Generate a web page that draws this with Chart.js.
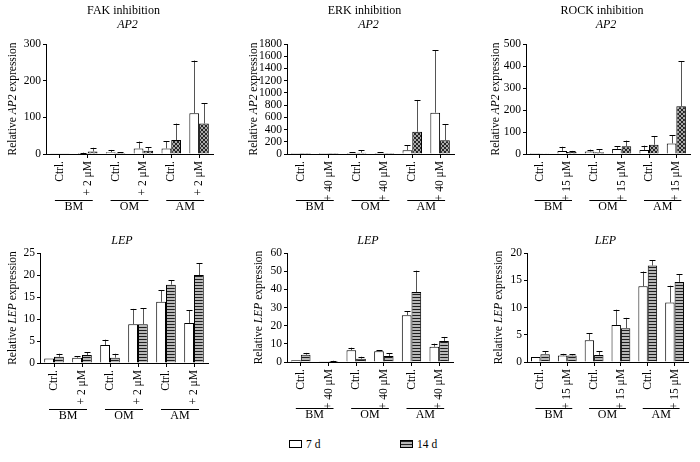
<!DOCTYPE html>
<html>
<head>
<meta charset="utf-8">
<script src="https://cdn.jsdelivr.net/npm/chart.js@4.4.0/dist/chart.umd.min.js"></script>
<style>
  body { margin: 0; background: #fff; width: 700px; height: 462px; overflow: hidden; position: relative; }
  canvas { position: absolute; }
  .leg { position: absolute; top: 438px; font-family: "Liberation Serif", serif; font-size: 11.5px; color: #000; line-height: 12px; }
  .leg span { display: inline-block; width: 11px; height: 6px; border: 1px solid #000; margin-right: 4px; vertical-align: 0px; background: #fff; }
  .leg span.striped { background: repeating-linear-gradient(to bottom, #222 0px, #222 1px, #b8b8b8 1px, #b8b8b8 3px); }
</style>
</head>
<body>
<canvas id="c0"></canvas>
<canvas id="c1"></canvas>
<canvas id="c2"></canvas>
<canvas id="c3"></canvas>
<canvas id="c4"></canvas>
<canvas id="c5"></canvas>
<div class="leg" style="left:289px"><span></span>7 d</div>
<div class="leg" style="left:400px"><span class="striped"></span>14 d</div>
<script>
// categories
const groups = ["BM", "OM", "AM"];
const fakLabels = ["Ctrl.", "+ 2 μM", "Ctrl.", "+ 2 μM", "Ctrl.", "+ 2 μM"];
const erkLabels = ["Ctrl.", "+ 40 μM", "Ctrl.", "+ 40 μM", "Ctrl.", "+ 40 μM"];
const rockLabels = ["Ctrl.", "+ 15 μM", "Ctrl.", "+ 15 μM", "Ctrl.", "+ 15 μM"];

// AP2 (top row)
const fakAp2d7 = [1, 3, 5, 15, 15, 111];
const fakAp2d14 = [2, 7, 3, 9, 38, 83];
const fakAp2sd7 = [0, 1, 6, 19, 20, 144];
const fakAp2sd14 = [0, 10, 2, 10, 45, 56];

const erkAp2d7 = [1, 1, 16, 16, 60, 676];
const erkAp2d14 = [1, 1, 22, 2, 365, 224];
const erkAp2sd7 = [0, 0, 11, 11, 87, 1021];
const erkAp2sd14 = [0, 0, 38, 0, 519, 267];

const rockAp2d7 = [0.5, 14, 11, 23, 18, 48];
const rockAp2d14 = [1, 9, 8, 35, 42, 217];
const rockAp2sd7 = [0, 19, 9, 12, 20, 38];
const rockAp2sd14 = [0, 5, 13, 26, 40, 204];

// LEP (bottom row)
const fakLepd7 = [1.0, 1.2, 4.1, 8.8, 13.9, 9.1];
const fakLepd14 = [1.4, 1.8, 1.2, 8.8, 17.8, 20.0];
const fakLepsd7 = [0, 0.3, 1.2, 3.5, 2.6, 2.9];
const fakLepsd14 = [0.7, 0.6, 0.9, 3.7, 1.0, 2.7];

const erkLepd7 = [0.9, 0.4, 6.4, 5.9, 25.7, 8.4];
const erkLepd14 = [4.0, 0.5, 1.8, 3.3, 38.5, 11.6];
const erkLepsd7 = [0, 0, 1.5, 0.7, 2.2, 1.7];
const erkLepsd14 = [1.0, 0.2, 1.1, 1.5, 11.8, 2.2];

const rockLepd7 = [0.9, 1.2, 4.0, 6.8, 13.9, 10.9];
const rockLepd14 = [1.4, 1.2, 1.3, 6.2, 17.7, 14.7];
const rockLepsd7 = [0, 0.3, 1.3, 2.8, 2.7, 3.1];
const rockLepsd14 = [0.6, 0.2, 0.7, 1.9, 1.0, 1.4];

// y axis ranges [max, step]
const fakAp2Axis = [300, 100];
const erkAp2Axis = [1800, 200];
const rockAp2Axis = [500, 100];
const fakLepAxis = [25, 5];
const erkLepAxis = [60, 10];
const rockLepAxis = [20, 5];

const FONT = '"Liberation Serif", "Times New Roman", serif';
Chart.defaults.font.family = FONT;
Chart.defaults.font.size = 11.5;
Chart.defaults.color = "#000";

function crossPattern() {
    const c = document.createElement("canvas");
    c.width = 4; c.height = 4;
    const g = c.getContext("2d");
    g.fillStyle = "#a8a8a8";
    g.fillRect(0, 0, 4, 4);
    g.fillStyle = "#262626";
    for (let i = 0; i < 4; i++) {
        g.fillRect(i, i, 1, 1);
        g.fillRect(3 - i, i, 1, 1);
    }
    return g.createPattern(c, "repeat");
}

function stripePattern() {
    const c = document.createElement("canvas");
    c.width = 4; c.height = 3;
    const g = c.getContext("2d");
    g.fillStyle = "#b8b8b8";
    g.fillRect(0, 0, 4, 3);
    g.fillStyle = "#1e1e1e";
    g.fillRect(0, 0, 4, 1);
    return g.createPattern(c, "repeat");
}

// error bars: one-sided, upward, with a cap
const errorBars = {
    id: "errorBars",
    afterDatasetsDraw(chart) {
        const ctx = chart.ctx;
        const y = chart.scales.y;
        chart.data.datasets.forEach((ds, i) => {
            const meta = chart.getDatasetMeta(i);
            meta.data.forEach((bar, j) => {
                const sd = ds.sd[j];
                if (!sd) return;
                const top = y.getPixelForValue(ds.data[j] + sd);
                const bx = Math.round(bar.x) + 0.5;
                ctx.save();
                ctx.lineWidth = 1;
                ctx.strokeStyle = "#555";
                ctx.beginPath();
                ctx.moveTo(bx, bar.y);
                ctx.lineTo(bx, top);
                ctx.stroke();
                ctx.strokeStyle = "#000";
                ctx.beginPath();
                ctx.moveTo(bx - 3, Math.round(top) + 0.5);
                ctx.lineTo(bx + 3, Math.round(top) + 0.5);
                ctx.stroke();
                ctx.restore();
            });
        });
    }
};

// titles, y-axis title with italic gene name, group brackets
const panelText = {
    id: "panelText",
    afterDraw(chart, args, o) {
        const ctx = chart.ctx;
        const area = chart.chartArea;
        const cx = (area.left + area.right) / 2;
        ctx.save();
        ctx.fillStyle = "#000";
        ctx.textAlign = "center";
        ctx.textBaseline = "middle";
        if (o.title) {
            ctx.font = "12px " + FONT;
            ctx.fillText(o.title, cx - 6, 11);
            ctx.font = "italic 12px " + FONT;
            ctx.fillText(o.gene, cx - 2, 25);
        } else {
            ctx.font = "italic 12px " + FONT;
            ctx.fillText(o.gene, cx - 2, 16);
        }

        // y axis title
        const parts = [["Relative ", ""], [o.gene, "italic "], [" expression", ""]];
        let total = 0;
        parts.forEach(p => { ctx.font = p[1] + "11.5px " + FONT; total += ctx.measureText(p[0]).width; });
        ctx.translate(area.left - o.yTitleOff, (area.top + area.bottom) / 2);
        ctx.rotate(-Math.PI / 2);
        ctx.textAlign = "left";
        let x = -total / 2;
        parts.forEach(p => {
            ctx.font = p[1] + "11.5px " + FONT;
            ctx.fillText(p[0], x, 0);
            x += ctx.measureText(p[0]).width;
        });
        ctx.restore();

        // group brackets
        const xs = chart.scales.x;
        ctx.save();
        ctx.strokeStyle = "#000";
        ctx.lineWidth = 1;
        ctx.fillStyle = "#000";
        ctx.font = "12px " + FONT;
        ctx.textAlign = "center";
        ctx.textBaseline = "middle";
        groups.forEach((g, k) => {
            const x0 = xs.getPixelForTick(2 * k) - 5;
            const x1 = xs.getPixelForTick(2 * k + 1) + 5;
            const ly = Math.round(area.bottom + 46) + 0.5;
            ctx.beginPath();
            ctx.moveTo(x0, ly);
            ctx.lineTo(x1, ly);
            ctx.stroke();
            ctx.fillText(g, (x0 + x1) / 2, area.bottom + 53);
        });
        ctx.restore();
    }
};

const cross = crossPattern();
const stripes = stripePattern();

const panels = [
    { id: "c0", title: "FAK inhibition", gene: "AP2", labels: fakLabels, d7: fakAp2d7, d14: fakAp2d14, sd7: fakAp2sd7, sd14: fakAp2sd14, axis: fakAp2Axis, fill: cross, box: [46, 213, 44, 154], top: 0, yTitleOff: 33 },
    { id: "c1", title: "ERK inhibition", gene: "AP2", labels: erkLabels, d7: erkAp2d7, d14: erkAp2d14, sd7: erkAp2sd7, sd14: erkAp2sd14, axis: erkAp2Axis, fill: cross, box: [287, 454, 44, 154], top: 0, yTitleOff: 33 },
    { id: "c2", title: "ROCK inhibition", gene: "AP2", labels: rockLabels, d7: rockAp2d7, d14: rockAp2d14, sd7: rockAp2sd7, sd14: rockAp2sd14, axis: rockAp2Axis, fill: cross, box: [526, 690, 44, 154], top: 0, yTitleOff: 30 },
    { id: "c3", title: "", gene: "LEP", labels: fakLabels, d7: fakLepd7, d14: fakLepd14, sd7: fakLepsd7, sd14: fakLepsd14, axis: fakLepAxis, fill: stripes, box: [40, 208, 253, 363], top: 225, yTitleOff: 27 },
    { id: "c4", title: "", gene: "LEP", labels: erkLabels, d7: erkLepd7, d14: erkLepd14, sd7: erkLepsd7, sd14: erkLepsd14, axis: erkLepAxis, fill: stripes, box: [287, 453, 253, 362], top: 225, yTitleOff: 28 },
    { id: "c5", title: "", gene: "LEP", labels: rockLabels, d7: rockLepd7, d14: rockLepd14, sd7: rockLepsd7, sd14: rockLepsd14, axis: rockLepAxis, fill: stripes, box: [527, 688, 253, 362], top: 225, yTitleOff: 28 }
];

const Y_W = 42, X_H = 70, PAD_R = 6;

panels.forEach(p => {
    const [l, r, t, b] = p.box;
    const cv = document.getElementById(p.id);
    const left = l - Y_W;
    cv.width = r - left + PAD_R;
    cv.height = b - p.top + X_H;
    cv.style.left = left + "px";
    cv.style.top = p.top + "px";

    new Chart(cv.getContext("2d"), {
        type: "bar",
        data: {
            labels: p.labels,
            datasets: [
                { label: "7 d", data: p.d7, sd: p.sd7, backgroundColor: "#fff", borderColor: "#000", borderWidth: 1 },
                { label: "14 d", data: p.d14, sd: p.sd14, backgroundColor: p.fill, borderColor: "#000", borderWidth: 1 }
            ]
        },
        options: {
            responsive: false,
            animation: false,
            events: [],
            categoryPercentage: 0.7,
            barPercentage: 1.0,
            layout: { padding: { left: 0, right: PAD_R, top: t - p.top, bottom: 0 } },
            plugins: {
                legend: { display: false },
                tooltip: { enabled: false },
                panelText: { title: p.title, gene: p.gene, yTitleOff: p.yTitleOff }
            },
            scales: {
                x: {
                    grid: { display: true, drawOnChartArea: false, offset: false, tickLength: 4, color: "#000" },
                    border: { color: "#000", width: 1 },
                    ticks: { autoSkip: false, minRotation: 90, maxRotation: 90, padding: 3, font: { size: 11.5 } },
                    afterFit: s => { s.height = X_H; }
                },
                y: {
                    min: 0,
                    max: p.axis[0],
                    grid: { display: true, drawOnChartArea: false, tickLength: 3, color: "#000" },
                    border: { color: "#000", width: 1 },
                    ticks: { stepSize: p.axis[1], autoSkip: false, padding: 2, font: { size: 11.5 }, callback: v => String(v) },
                    afterFit: s => { s.width = Y_W; }
                }
            }
        },
        plugins: [errorBars, panelText]
    });
});
</script>
</body>
</html>
